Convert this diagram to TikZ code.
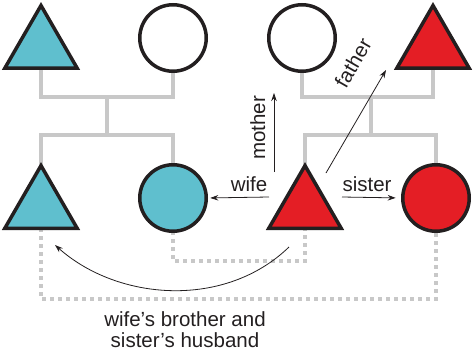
\documentclass[tikz,border=0pt]{standalone}
\usepackage{fontspec}
\setmainfont{Liberation Sans}
\usetikzlibrary{shapes.geometric,arrows.meta,backgrounds}
\definecolor{cyanfill}{RGB}{95,191,206}
\definecolor{redfill}{RGB}{228,30,37}
\definecolor{linkgray}{RGB}{200,200,200}
\definecolor{ink}{RGB}{35,31,32}
\tikzset{
  male/.style={regular polygon, regular polygon sides=3, minimum size=83.6pt, inner sep=0pt, outer sep=0pt, draw=ink, line width=3.5pt, line join=miter},
  female/.style={circle, minimum size=66.5pt, inner sep=0pt, outer sep=0pt, draw=ink, line width=3.5pt},
  kin/.style={draw=linkgray, line width=4pt},
  inlaw/.style={draw=linkgray, line width=3.5pt, dash pattern=on 3.5pt off 4.5pt},
  rel/.style={draw=ink, line width=0.8pt, -{Stealth[length=8pt,width=5.5pt]}},
  lbl/.style={font=\fontsize{20.5}{21}\selectfont, text=ink, inner sep=0pt}
}
\begin{document}
\begin{tikzpicture}[x=1pt,y=-1pt]
\useasboundingbox (0,0) rectangle (474,351);
% grandparents
\node[male, fill=cyanfill] (gf1) at (41,47.3) {};
\node[female, fill=white] (gm1) at (173,38) {};
\node[female, fill=white] (gm2) at (302,38) {};
\node[male, fill=redfill] (gf2) at (433,47.3) {};
% children
\node[male, fill=cyanfill] (bro) at (41,207.4) {};
\node[female, fill=cyanfill] (wife) at (173,198) {};
\node[male, fill=redfill] (ego) at (305,207.4) {};
\node[female, fill=redfill] (sis) at (436,198) {};
% junction coordinates
\coordinate (jL) at (107,97);
\coordinate (sL) at (107,135);
\coordinate (jR) at (371,97);
\coordinate (sR) at (371,135);
\coordinate (dA) at (240,261);
\coordinate (dB) at (240,299);
\begin{scope}[on background layer]
\draw[kin] (gf1.south) |- (jL) -| (gm1.south);
\draw[kin] (jL) -- (sL);
\draw[kin] (bro.north) |- (sL) -| (wife.north);
\draw[kin] (gm2.south) |- (jR) -| (gf2.south);
\draw[kin] (jR) -- (sR);
\draw[kin] (ego.north) |- (sR) -| (sis.north);
\draw[inlaw] (wife.south) |- (dA) -| (ego.south);
\draw[inlaw] (bro.south) |- (dB) -| (sis.south);
\end{scope}
% relation arrows
\coordinate (wS) at (269,197);
\coordinate (sS) at (342,197);
\coordinate (mS) at (274,172);
\coordinate (mE) at (274,93);
\coordinate (fS) at (326,173);
\coordinate (fE) at (386,70);
\coordinate (cS) at (289,247);
\coordinate (cE) at (55,245);
\draw[rel, shorten >=4pt] (wS) -- (wife.east);
\draw[rel, shorten >=7pt] (sS) -- (sis.west);
\draw[rel] (mS) -- (mE);
\draw[rel] (fS) -- (fE);
\draw[rel] (cS) .. controls (225,309) and (118,301) .. (cE);
% labels
\node[lbl, anchor=base] (lw) at (249,191) {wife};
\node[lbl, anchor=base] (ls) at (367,191) {sister};
\node[lbl, anchor=base, rotate=90] (lm) at (265,128) {mother};
\node[lbl, rotate=60] (lf) at (353,63) {father};
\node[lbl, align=center, anchor=north] (lb) at (185,311) {wife’s brother and\\sister’s husband};
\end{tikzpicture}
\end{document}
